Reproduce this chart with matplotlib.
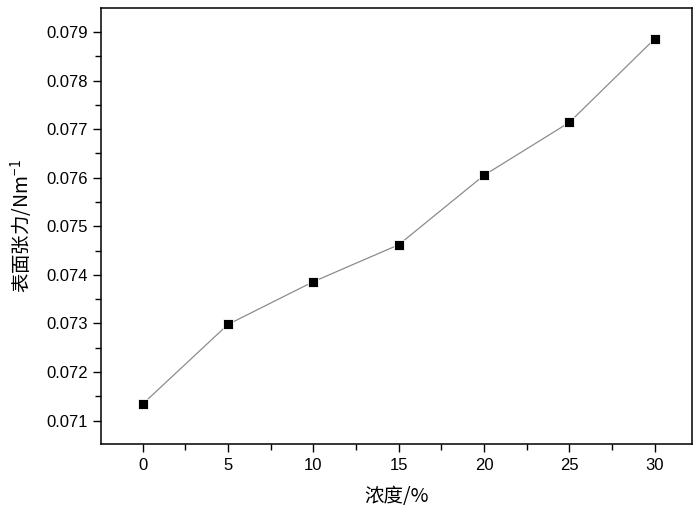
import matplotlib
matplotlib.use("Agg")
import matplotlib.pyplot as plt
from matplotlib.ticker import MultipleLocator

# Data
concentration = [0, 5, 10, 15, 20, 25, 30]
surface_tension = [0.07134, 0.07298, 0.07386, 0.07462, 0.07605, 0.07714, 0.07886]

plt.rcParams["font.family"] = ["Liberation Sans", "Noto Sans CJK SC", "DejaVu Sans"]
plt.rcParams["mathtext.default"] = "regular"

fig = plt.figure(figsize=(7, 5.12), dpi=100)
ax = fig.add_axes([0.144, 0.132, 0.845, 0.852])

ax.plot(concentration, surface_tension, color="#8c8c8c", linewidth=0.9,
        marker="s", markersize=7, markerfacecolor="black",
        markeredgecolor="white", markeredgewidth=0.6)

# limits nudged inward so no minor tick lands on the frame edge
ax.set_xlim(-2.45, 32.2)
ax.set_ylim(0.07051, 0.07949)
ax.xaxis.set_major_locator(MultipleLocator(5))
ax.xaxis.set_minor_locator(MultipleLocator(2.5))
ax.yaxis.set_major_locator(MultipleLocator(0.001))
ax.yaxis.set_minor_locator(MultipleLocator(0.0005))
ax.yaxis.set_major_formatter(plt.FuncFormatter(lambda v, p: f"{v:.3f}"))

ax.tick_params(which="both", direction="out", top=False, right=False,
               labelsize=12, width=1)
ax.tick_params(which="major", length=6)
ax.tick_params(which="minor", length=4)
for sp in ax.spines.values():
    sp.set_linewidth(1.1)

ax.set_xlabel("浓度/%", fontsize=14, family=["Noto Sans CJK SC", "DejaVu Sans"],
              labelpad=10)
ax.set_ylabel("表面张力/Nm$^{-1}$", fontsize=14,
              family=["Noto Sans CJK SC", "DejaVu Sans"], labelpad=8)

fig.savefig("out.png", dpi=100)
